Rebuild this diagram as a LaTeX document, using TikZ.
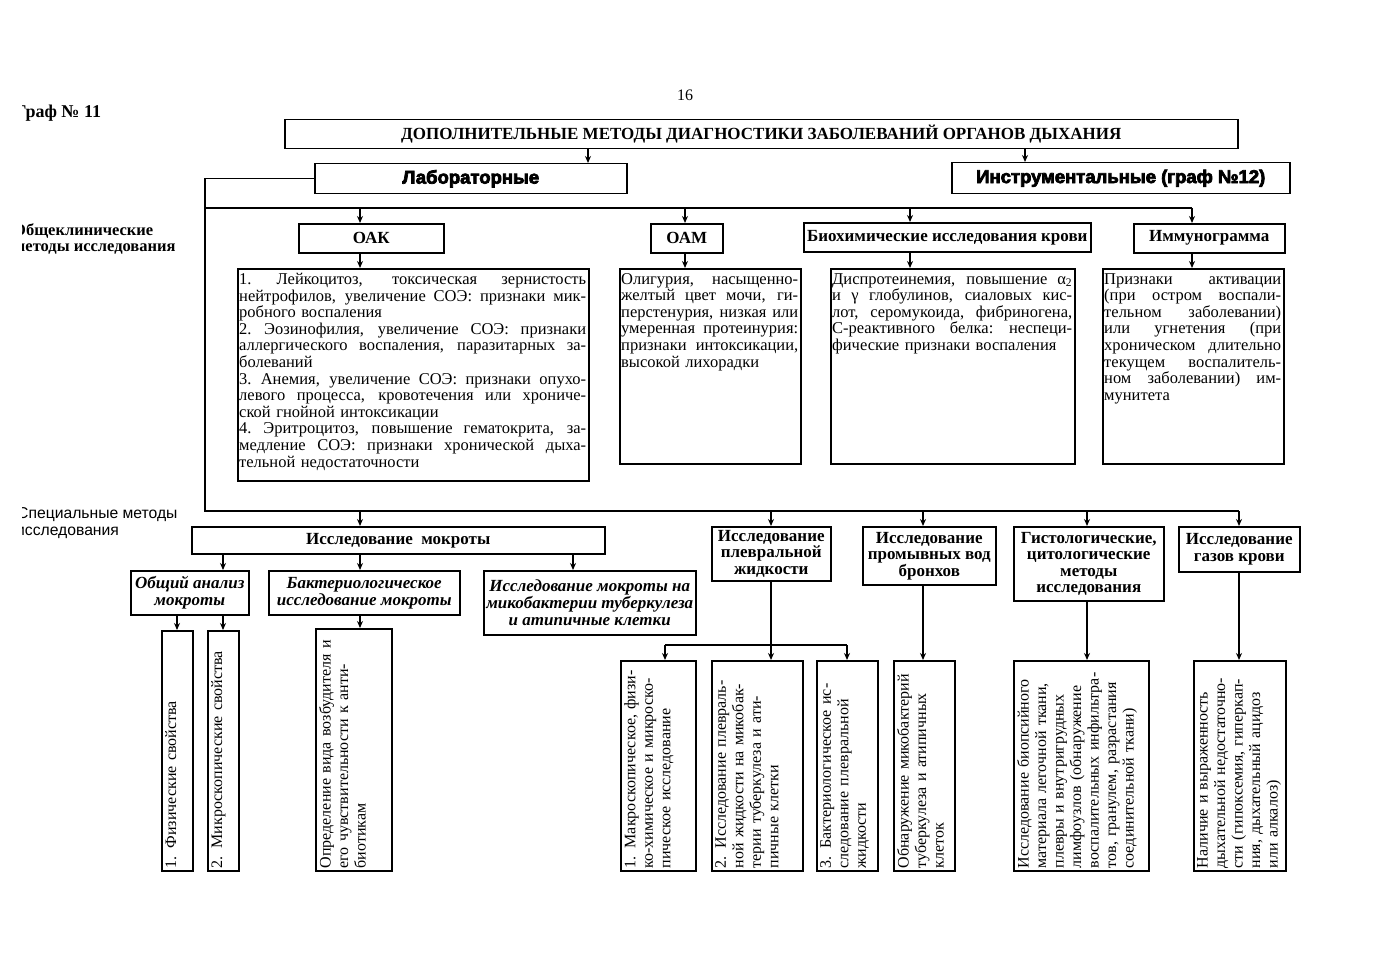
\documentclass[tikz,border=0pt]{standalone}
\usepackage{fontspec}
\setmainfont{Liberation Serif}
\setsansfont{Liberation Sans}
\newfontfamily\blackfont{Liberation Sans}[FakeBold=4]
\usetikzlibrary{arrows.meta}
\newcommand\jline[1]{\hbox to\hsize{\spaceskip=0.25em plus 1fil\xspaceskip=0.3em plus 1fil #1}}
\newcommand\rline[1]{\hbox{#1}}
\begin{document}
\begin{tikzpicture}[x=1pt,y=-1pt,
  box/.style={draw, line width=1.5pt, inner sep=0pt, anchor=north west},
  conn/.style={line width=1.4pt},
  arr/.style={conn, -{Stealth[length=7pt,width=6pt]}},
  hdr/.style={font=\bfseries\fontsize{17}{16.5}\selectfont, align=center},
  ital/.style={font=\bfseries\itshape\fontsize{17}{17}\selectfont, align=center},
  blk/.style={font=\blackfont\bfseries\fontsize{18.5}{20}\selectfont},
  body/.style={font=\fontsize{16.5}{16.6}\selectfont, inner sep=0pt, anchor=north west},
  vtext/.style={font=\fontsize{16}{17.5}\selectfont, inner sep=0pt, rotate=90, anchor=north west, align=left},
  side/.style={anchor=base west, inner sep=0pt},
]
\useasboundingbox (0,0) rectangle (1386,960);

% ---- side labels (cut at the left edge as in the scan)
\begin{scope}
\clip (22,0) rectangle (300,960);
\node[side, font=\bfseries\fontsize{18}{20}\selectfont] (graf) at (15,118) {Граф № 11};
\node[side, font=\bfseries\fontsize{16.5}{18}\selectfont] (obsch1) at (13,235) {Общеклинические};
\node[side, font=\bfseries\fontsize{16.5}{18}\selectfont] (obsch2) at (14,251) {методы исследования};
\node[side, font=\sffamily\fontsize{15.7}{17}\selectfont] (spec1) at (17,518) {Специальные методы};
\node[side, font=\sffamily\fontsize{15.7}{17}\selectfont] (spec2) at (16,535) {исследования};
\end{scope}

\node[font=\fontsize{16}{18}\selectfont] (pnum) at (685,95) {16};

% ---- top level
\node[box, minimum width=953pt, minimum height=29pt, font=\bfseries\fontsize{17}{19}\selectfont] (title) at (284,119) {ДОПОЛНИТЕЛЬНЫЕ МЕТОДЫ ДИАГНОСТИКИ ЗАБОЛЕВАНИЙ ОРГАНОВ ДЫХАНИЯ};
\node[box, minimum width=312pt, minimum height=30pt, blk] (lab) at (314,163) {Лабораторные};
\node[box, minimum width=338pt, minimum height=31pt, blk] (instr) at (951,162) {Инструментальные (граф №12)};

% ---- general clinical
\node[box, minimum width=145pt, minimum height=29pt, hdr] (oak) at (298,223) {ОАК};
\node[box, minimum width=72pt, minimum height=29pt, hdr] (oam) at (650,223) {ОАМ};
\node[box, minimum width=287pt, minimum height=29pt, hdr] (bio) at (803,222) {Биохимические исследования крови};
\node[box, minimum width=151pt, minimum height=29pt, hdr] (imm) at (1133,223) {Иммунограмма};

\node[box, minimum width=351pt, minimum height=212pt] (oakT) at (237,268) {};
\node[box, minimum width=181pt, minimum height=195pt] (oamT) at (619,268) {};
\node[box, minimum width=244pt, minimum height=195pt] (bioT) at (830,268) {};
\node[box, minimum width=181pt, minimum height=195pt] (immT) at (1102,268) {};

\node[body, text width=347pt] (oakX) at ([xshift=2pt,yshift=-5pt]oakT.north west) {%
\jline{1. Лейкоцитоз, токсическая зернистость}
\jline{нейтрофилов, увеличение СОЭ: признаки мик-}
\rline{робного воспаления}
\jline{2. Эозинофилия, увеличение СОЭ: признаки}
\jline{аллергического воспаления, паразитарных за-}
\rline{болеваний}
\jline{3. Анемия, увеличение СОЭ: признаки опухо-}
\jline{левого процесса, кровотечения или хрониче-}
\rline{ской гнойной интоксикации}
\jline{4. Эритроцитоз, повышение гематокрита, за-}
\jline{медление СОЭ: признаки хронической дыха-}
\rline{тельной недостаточности}};

\node[body, text width=177pt] (oamX) at ([xshift=2pt,yshift=-5pt]oamT.north west) {%
\jline{Олигурия, насыщенно-}
\jline{желтый цвет мочи, ги-}
\jline{перстенурия, низкая или}
\jline{умеренная протеинурия:}
\jline{признаки интоксикации,}
\rline{высокой лихорадки}};

\node[body, text width=240pt] (bioX) at ([xshift=2pt,yshift=-5pt]bioT.north west) {%
\jline{Диспротеинемия, повышение α\textsubscript{2}}
\jline{и γ глобулинов, сиаловых кис-}
\jline{лот, серомукоида, фибриногена,}
\jline{С-реактивного белка: неспеци-}
\rline{фические признаки воспаления}};

\node[body, text width=177pt] (immX) at ([xshift=2pt,yshift=-5pt]immT.north west) {%
\jline{Признаки активации}
\jline{(при остром воспали-}
\jline{тельном заболевании)}
\jline{или угнетения (при}
\jline{хроническом длительно}
\jline{текущем воспалитель-}
\jline{ном заболевании) им-}
\rline{мунитета}};

% ---- special methods
\node[box, minimum width=413pt, minimum height=27pt, hdr] (mokr) at (191,526) {Исследование\ \ мокроты};
\node[box, minimum width=118pt, minimum height=44pt, ital] (obsh) at (130,570) {Общий анализ\\мокроты};
\node[box, minimum width=191pt, minimum height=44pt, ital] (bakt) at (268,570) {Бактериологическое\\исследование мокроты};
\node[box, minimum width=212pt, minimum height=64pt, ital] (mico) at (483,570) {Исследование мокроты на\\микобактерии туберкулеза\\и атипичные клетки};
\node[box, minimum width=119pt, minimum height=54pt, hdr] (plevr) at (711,526) {Исследование\\плевральной\\жидкости};
\node[box, minimum width=133pt, minimum height=58pt, hdr] (prom) at (862,526) {Исследование\\промывных вод\\бронхов};
\node[box, minimum width=150pt, minimum height=74pt, hdr] (gist) at (1013,526) {Гистологические,\\цитологические\\методы\\исследования};
\node[box, minimum width=121pt, minimum height=45pt, hdr] (gaz) at (1178,526) {Исследование\\газов крови};

% ---- vertical boxes
\node[box, minimum width=31pt, minimum height=240pt] (fiz) at (161,630) {};
\node[box, minimum width=31pt, minimum height=240pt] (micr) at (207,630) {};
\node[box, minimum width=76pt, minimum height=242pt] (opred) at (315,628) {};
\node[box, minimum width=75pt, minimum height=210pt] (makro) at (620,660) {};
\node[box, minimum width=91pt, minimum height=210pt] (pl2) at (711,660) {};
\node[box, minimum width=61pt, minimum height=210pt] (bk3) at (816,660) {};
\node[box, minimum width=61pt, minimum height=210pt] (obn) at (893,660) {};
\node[box, minimum width=135pt, minimum height=210pt] (gistT) at (1013,660) {};
\node[box, minimum width=92pt, minimum height=210pt] (gazT) at (1193,660) {};

\node[vtext, text width=235pt] (fizX) at ([xshift=4pt,yshift=3pt]fiz.south west) {1. Физические свойства};
\node[vtext, text width=235pt] (micrX) at ([xshift=4pt,yshift=3pt]micr.south west) {2. Микроскопические свойства};
\node[vtext, text width=238pt] (opredX) at ([xshift=4pt,yshift=3pt]opred.south west) {Определение вида возбудителя и\\его чувствительности к анти-\\биотикам};
\node[vtext, text width=206pt] (makroX) at ([xshift=4pt,yshift=3pt]makro.south west) {1. Макроскопическое, физи-\\ко-химическое и микроско-\\пическое исследование};
\node[vtext, text width=206pt] (pl2X) at ([xshift=4pt,yshift=3pt]pl2.south west) {2. Исследование плевраль-\\ной жидкости на микобак-\\терии туберкулеза и ати-\\пичные клетки};
\node[vtext, text width=206pt] (bk3X) at ([xshift=4pt,yshift=3pt]bk3.south west) {3. Бактериологическое ис-\\следование плевральной\\жидкости};
\node[vtext, text width=206pt] (obnX) at ([xshift=4pt,yshift=3pt]obn.south west) {Обнаружение микобактерий\\туберкулеза и атипичных\\клеток};
\node[vtext, text width=206pt] (gistX) at ([xshift=4pt,yshift=3pt]gistT.south west) {Исследование биопсийного\\материала легочной ткани,\\плевры и внутригрудных\\лимфоузлов (обнаружение\\воспалительных инфильтра-\\тов, гранулем, разрастания\\соединительной ткани)};
\node[vtext, text width=206pt] (gazX) at ([xshift=4pt,yshift=3pt]gazT.south west) {Наличие и выраженность\\дыхательной недостаточно-\\сти (гипоксемия, гиперкап-\\ния, дыхательный ацидоз\\или алкалоз)};

% ---- connector reference points
\coordinate (aLab) at (588,0);
\coordinate (aIns) at (1025,0);
\coordinate (bus1) at (205,208);
\coordinate (bus2) at (205,511);
\coordinate (bus3) at (665,645);
\coordinate (xOak) at (360,0);
\coordinate (xOam) at (685,0);
\coordinate (xBio) at (910,0);
\coordinate (xImm) at (1192,0);
\coordinate (xPl) at (771,0);
\coordinate (xPr) at (923,0);
\coordinate (xGi) at (1087,0);
\coordinate (xGa) at (1239,0);
\coordinate (xOb) at (223,0);
\coordinate (xMi) at (573,0);
\coordinate (xFz) at (177,0);
\coordinate (xBk) at (847,0);

% ---- connectors
\draw[arr] (title.south -| aLab) -- (lab.north -| aLab);
\draw[arr] (title.south -| aIns) -- (instr.north -| aIns);
\draw[conn] (lab.west) -- (lab.west -| bus1) -- (bus2) -- (bus2 -| xGa);
\draw[conn] (bus1) -- (bus1 -| xImm);
\draw[arr] (bus1 -| xOak) -- (oak.north -| xOak);
\draw[arr] (bus1 -| xOam) -- (oam.north -| xOam);
\draw[arr] (bus1 -| xBio) -- (bio.north -| xBio);
\draw[arr] (bus1 -| xImm) -- (imm.north -| xImm);
\draw[arr] (oak.south -| xOak) -- (oakT.north -| xOak);
\draw[arr] (oam.south -| xOam) -- (oamT.north -| xOam);
\draw[arr] (bio.south -| xBio) -- (bioT.north -| xBio);
\draw[arr] (imm.south -| xImm) -- (immT.north -| xImm);

\draw[arr] (bus2 -| xOak) -- (mokr.north -| xOak);
\draw[arr] (bus2 -| xPl) -- (plevr.north -| xPl);
\draw[arr] (bus2 -| xPr) -- (prom.north -| xPr);
\draw[arr] (bus2 -| xGi) -- (gist.north -| xGi);
\draw[arr] (bus2 -| xGa) -- (gaz.north -| xGa);

\draw[arr] (mokr.south -| xOb) -- (obsh.north -| xOb);
\draw[arr] (mokr.south -| xOak) -- (bakt.north -| xOak);
\draw[arr] (mokr.south -| xMi) -- (mico.north -| xMi);
\draw[arr] (obsh.south -| xFz) -- (fiz.north -| xFz);
\draw[arr] (obsh.south -| xOb) -- (micr.north -| xOb);
\draw[arr] (bakt.south -| xOak) -- (opred.north -| xOak);

\draw[arr] (plevr.south -| xPl) -- (pl2.north -| xPl);
\draw[conn] (bus3) -- (bus3 -| xBk);
\draw[arr] (bus3) -- (makro.north -| bus3);
\draw[arr] (bus3 -| xBk) -- (bk3.north -| xBk);
\draw[arr] (prom.south -| xPr) -- (obn.north -| xPr);
\draw[arr] (gist.south -| xGi) -- (gistT.north -| xGi);
\draw[arr] (gaz.south -| xGa) -- (gazT.north -| xGa);
\end{tikzpicture}
\end{document}
